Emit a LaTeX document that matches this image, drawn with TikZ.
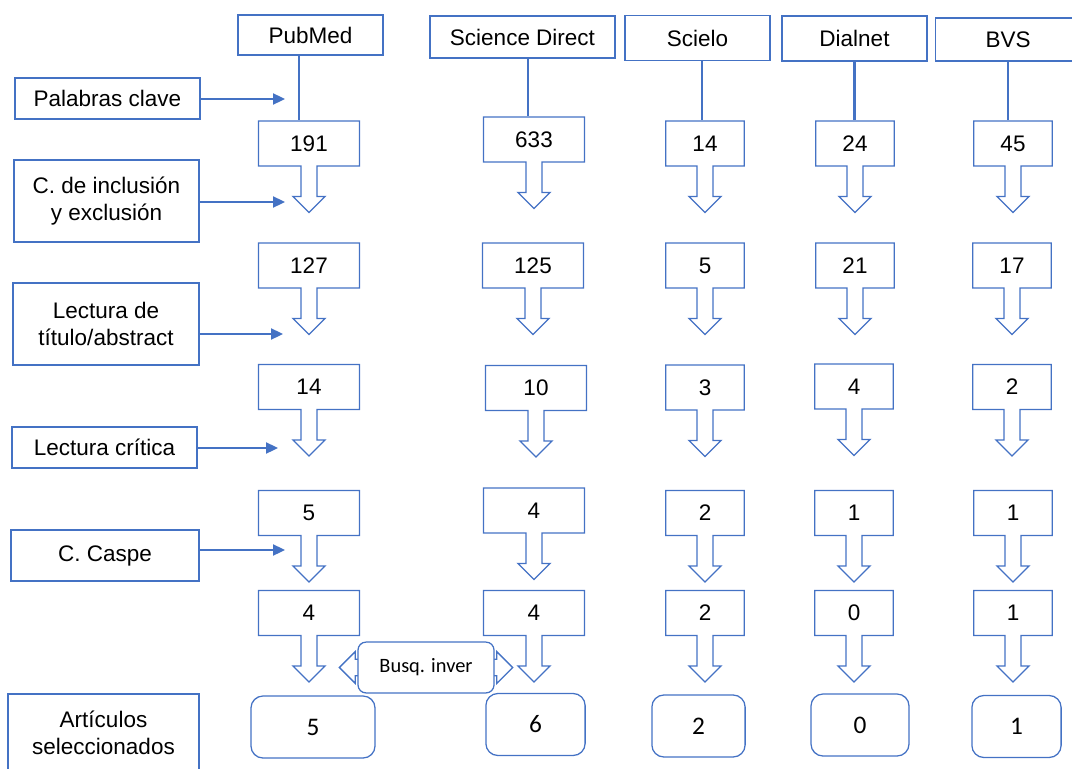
\documentclass[tikz,border=0pt]{standalone}
\usepackage{fontspec}
\setmainfont{Liberation Sans}
\newfontfamily\calfont{Carlito}
\usepackage{tikz}
\usetikzlibrary{shapes.arrows,arrows.meta}
\definecolor{flowblue}{RGB}{68,114,196}

\begin{document}
\begin{tikzpicture}[x=0.025cm, y=-0.025cm,
        bigtext/.style={font=\fontsize{16}{19.2}\selectfont},
        callout/.style={arrow box, draw=flowblue, line width=0.9pt, bigtext,
                arrow box arrows={south:1.15cm from border},
                arrow box shaft width=0.4cm, arrow box head extend=0.2cm,
                arrow box head indent=0pt, minimum height=1.12cm, inner sep=0pt},
        wide/.style={minimum width=2.52cm},
        slim/.style={minimum width=1.96cm}]
        \useasboundingbox (0,0) rectangle (1072,769);
        \clip (0,0) rectangle (1072,769);

        % databases
        \begin{scope}[every node/.style={draw=flowblue, line width=1pt, bigtext, inner sep=0pt}]
                \node[minimum width=3.62cm, minimum height=1cm] (HP) at (310.5,35) {PubMed};
                \node[minimum width=4.62cm, minimum height=1.05cm] (HS) at (522.5,37) {Science Direct};
                \node[minimum width=3.62cm, minimum height=1.13cm] (HC) at (697.5,38) {Scielo};
                \node[minimum width=3.62cm, minimum height=1.12cm] (HD) at (854.5,38.5) {Dialnet};
                \node[minimum width=3.62cm, minimum height=1.08cm] (HB) at (1008,39.5) {BVS};
        \end{scope}

        % steps on the left
        \begin{scope}[every node/.style={draw=flowblue, line width=1pt, bigtext, align=center, inner sep=0pt}]
                \node[minimum width=4.62cm, minimum height=1.02cm] (L1) at (107.5,98.5) {Palabras clave};
                \node[minimum width=4.62cm, minimum height=2.05cm] (L2) at (106.5,201) {C. de inclusión\\y exclusión};
                \node[minimum width=4.65cm, minimum height=2.05cm] (L3) at (106,324) {Lectura de\\título/abstract};
                \node[minimum width=4.62cm, minimum height=1.02cm] (L4) at (104.5,447.5) {Lectura crítica};
                \node[minimum width=4.7cm, minimum height=1.27cm] (L5) at (105,555.5) {C. Caspe};
                \node[minimum width=4.78cm, minimum height=1.95cm] (L6) at (103.5,733) {Artículos\\seleccionados};
        \end{scope}
        \coordinate (K1) at (285,99);
        \coordinate (K2) at (285,202);
        \coordinate (K3) at (283,334);
        \coordinate (K4) at (278,448);
        \coordinate (K5) at (285,550);

        % counts
        \node[callout, wide] (P1) at (309,143.5) {191};
        \node[callout, wide] (P2) at (309,265.5) {127};
        \node[callout, wide] (P3) at (309,387) {14};
        \node[callout, wide] (P4) at (309,513) {5};
        \node[callout, wide] (P5) at (309,613) {4};

        \node[callout, wide] (S1) at (534,139.5) {633};
        \node[callout, wide] (S2) at (533,265.5) {125};
        \node[callout, wide] (S3) at (536,388) {10};
        \node[callout, wide] (S4) at (534,510.5) {4};
        \node[callout, wide] (S5) at (534,613) {4};

        \node[callout, slim] (C1) at (705,143.5) {14};
        \node[callout, slim] (C2) at (705,265.5) {5};
        \node[callout, slim] (C3) at (705,387.5) {3};
        \node[callout, slim] (C4) at (705,513) {2};
        \node[callout, slim] (C5) at (705,613) {2};

        \node[callout, slim] (D1) at (855,143.5) {24};
        \node[callout, slim] (D2) at (855,265.5) {21};
        \node[callout, slim] (D3) at (854,386.5) {4};
        \node[callout, slim] (D4) at (854,513) {1};
        \node[callout, slim] (D5) at (854,613) {0};

        \node[callout, slim] (B1) at (1013,143.5) {45};
        \node[callout, slim] (B2) at (1012,265.5) {17};
        \node[callout, slim] (B3) at (1012,387) {2};
        \node[callout, slim] (B4) at (1013,513) {1};
        \node[callout, slim] (B5) at (1013,613) {1};

        % reverse search
        \begin{scope}[every node/.style={single arrow, draw=flowblue, fill=white, line width=0.9pt,
                        inner xsep=0pt, inner ysep=0.19cm, single arrow head extend=0.19cm,
                        minimum height=0.55cm}]
                \node[shape border rotate=180, anchor=tail] (QL) at (362,667.5) {};
                \node[anchor=tail] (QR) at (490,667.5) {};
        \end{scope}
        \node[draw=flowblue, fill=white, line width=0.9pt, rounded corners=0.2cm,
                minimum width=3.4cm, minimum height=1.27cm,
                font=\calfont\fontsize{14.5}{17}\selectfont] (Q) at (426,667.5) {Busq. inver};

        % selected
        \begin{scope}[every node/.style={draw=flowblue, line width=0.9pt, rounded corners=0.3cm,
                        minimum height=1.55cm, font=\calfont\fontsize{18}{21}\selectfont}]
                \node[minimum width=3.1cm] (PF) at (313,727) {5};
                \node[minimum width=2.48cm] (SF) at (535.5,724.5) {6};
                \node[minimum width=2.33cm] (CF) at (698.5,726) {2};
                \node[minimum width=2.45cm] (DF) at (860,725) {0};
                \node[minimum width=2.23cm] (BF) at (1016.5,726.5) {1};
        \end{scope}

        \begin{scope}[every edge/.style={draw=flowblue, line width=1.5pt}]
                \path ([xshift=-8]HP.south) edge ([xshift=-8]HP.south |- P1.north);
                \path ([xshift=4]HS.south) edge ([xshift=4]HS.south |- S1.north);
                \path ([xshift=3]HC.south) edge ([xshift=3]HC.south |- C1.north);
                \path (HD.south) edge (HD.south |- D1.north);
                \path (HB.south) edge (HB.south |- B1.north);
        \end{scope}
        \begin{scope}[every edge/.style={draw=flowblue, line width=1.1pt, -{Triangle[length=0.3cm, width=0.28cm]}}]
                \path (L1.east |- K1) edge (K1);
                \path (L2.east |- K2) edge (K2);
                \path (L3.east |- K3) edge (K3);
                \path (L4.east |- K4) edge (K4);
                \path (L5.east |- K5) edge (K5);
        \end{scope}
\end{tikzpicture}
\end{document}
